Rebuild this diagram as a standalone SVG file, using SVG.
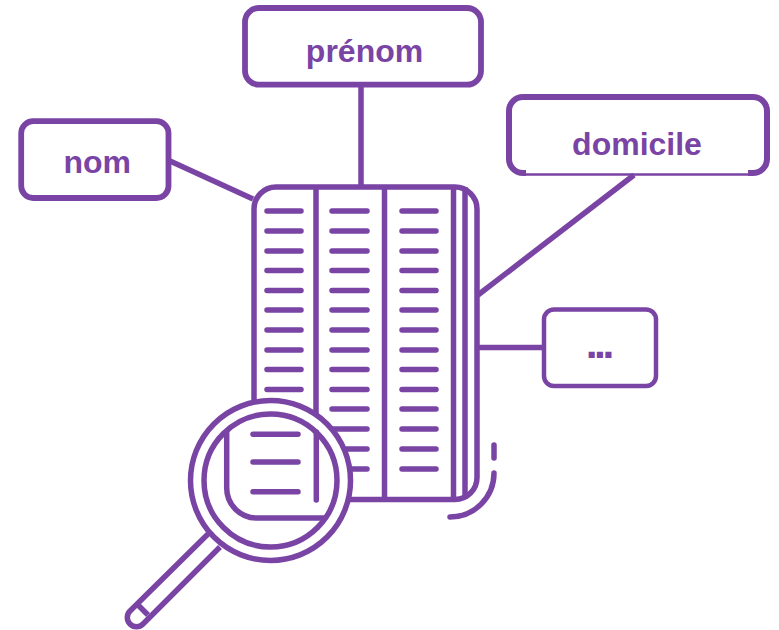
<svg xmlns="http://www.w3.org/2000/svg" width="779" height="630" viewBox="0 0 779 630">
<style>
.s{fill:none;stroke:#7a44a5;stroke-width:5.5}
.w{fill:#fff;stroke:#7a44a5;stroke-width:5.5}
.r{stroke-linecap:round}
.b{fill:#fff;stroke:#7a44a5;stroke-width:5.8}
text{font-family:"Liberation Sans",Arial,sans-serif;font-weight:700;font-size:32px;fill:#7a44a5;text-anchor:middle}
</style>
<rect width="779" height="630" fill="#fff"/>
<g id="connectors" class="s">
<path d="M361 85V187"/>
<path d="M170 161L253 199"/>
<path d="M634 175L478 295"/>
<path d="M478 347.500H544"/>
</g>
<g id="book">
<rect class="s" x="254" y="187" width="223" height="312.500" rx="22"/>
<path class="s" d="M316 187V499M384.500 187V499M453.500 187V499M465 187V499"/>
<path class="s r" d="M267 211h34M267 231h34M267 251h34M267 270.500h34M267 290.500h34M267 310h34M267 330h34M267 350h34M267 369.500h34M267 389.500h34"/>
<path class="s r" d="M332 211h35M332 231h35M332 251h35M332 270.500h35M332 290.500h35M332 310h35M332 330h35M332 350h35M332 369.500h35M332 389.500h35M332 409h35M332 429h35M332 449h35M332 469h35"/>
<path class="s r" d="M402 211h34M402 231h34M402 251h34M402 270.500h34M402 290.500h34M402 310h34M402 330h34M402 350h34M402 369.500h34M402 389.500h34M402 409h34M402 429h34M402 449h34M402 469h34"/>
<path class="s r" d="M494 445V458M494 473A44 44 0 0 1 450 517"/>
</g>
<g id="magnifier">
<path class="w" d="M208 534L130 611A8.900 8.900 0 0 0 143 624L220 547"/>
<path class="s" d="M138 605L148 615"/>
<circle class="w" cx="270.500" cy="480.500" r="80"/>
<circle class="s" cx="270.500" cy="480.500" r="66.500"/>
<path class="s" d="M226.700 430V488A30 30 0 0 0 256.700 518H325"/>
<path class="s r" d="M316.300 432V500M253 434.300H298M253 462H298M253 491.700H298"/>
</g>
<g id="node-prenom">
<rect class="b" x="245" y="8" width="236" height="76.700" rx="14"/>
<text x="364.500" y="62">prénom</text>
</g>
<g id="node-nom">
<rect class="b" x="21.200" y="121.200" width="147.300" height="76.800" rx="12"/>
<text x="97.200" y="173">nom</text>
</g>
<g id="node-domicile">
<path class="s" style="stroke-width:6" d="M526 173H523A14 14 0 0 1 509 159V111A14 14 0 0 1 523 97H753A14 14 0 0 1 767 111V159A14 14 0 0 1 753 173H748"/>
<path class="s" style="stroke-width:2.500" d="M526 174.500H748"/>
<text x="637" y="155">domicile</text>
</g>
<g id="node-more">
<rect class="s" style="stroke-width:4.500" x="544" y="309.500" width="112" height="76.500" rx="10"/>
<text x="600" y="356.500" style="font-size:30px;stroke:#7a44a5;stroke-width:1.800">...</text>
</g>
</svg>
